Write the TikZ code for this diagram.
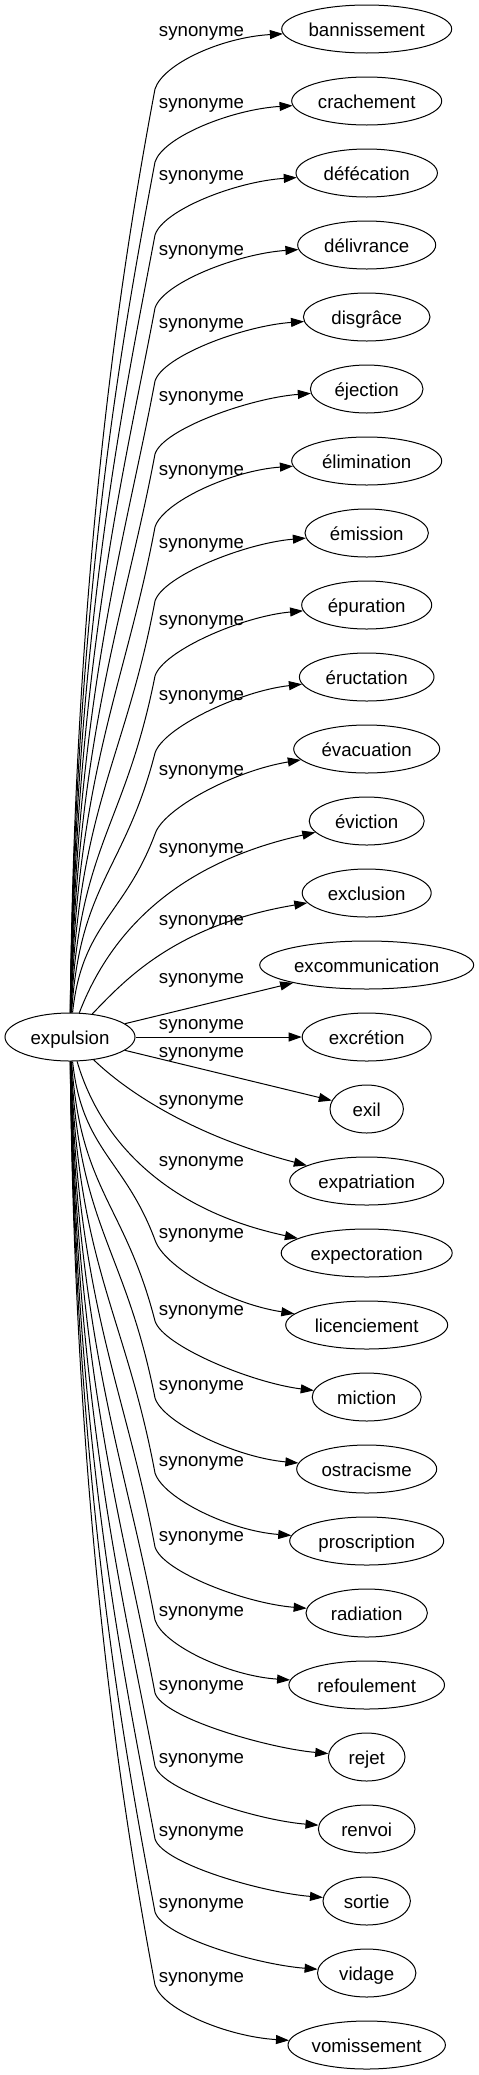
\documentclass[tikz,border=0pt]{standalone}
\usepackage{fontspec}
\setmainfont{Liberation Sans}
\usetikzlibrary{arrows.meta,shapes.geometric}

\tikzset{
  term/.style={draw, ellipse, inner sep=0pt, minimum height=48pt,
    text height=14pt, text depth=0pt, line width=1pt},
  syn/.style={inner sep=0pt},
  edge/.style={line width=1pt, -{Triangle[length=13pt,width=9pt]}},
}

\begin{document}
\begin{tikzpicture}[x=1pt, y=-1pt, font=\fontsize{18.67pt}{22pt}\selectfont]
\useasboundingbox (0,0) rectangle (479,2075);   % page as large as the reference

\node[term, minimum width=130pt] (expulsion) at (70,1037) {expulsion};   % the head word

% the synonyms, one row each, with the label of their edge
\foreach \i/\key/\word/\rx/\ly in {
    0/bannissement/bannissement/85/33, 1/crachement/crachement/75/105,
    2/defecation/défécation/70.7/177, 3/delivrance/délivrance/69/252,
    4/disgrace/disgrâce/63.3/325, 5/ejection/éjection/56.3/398,
    6/elimination/élimination/75/472, 7/emission/émission/61.7/545,
    8/epuration/épuration/65/622, 9/eructation/éructation/67.3/697,
    10/evacuation/évacuation/73/772, 11/eviction/éviction/57.5/850,
    12/exclusion/exclusion/64.5/922, 13/excommunication/excommunication/107/980,
    14/excretion/excrétion/64.5/1026, 15/exil/exil/36.7/1054,
    16/expatriation/expatriation/77/1102, 17/expectoration/expectoration/85.5/1163,
    18/licenciement/licenciement/81/1235, 19/miction/miction/54.5/1312,
    20/ostracisme/ostracisme/70/1387, 21/proscription/proscription/77/1463,
    22/radiation/radiation/60.7/1538, 23/refoulement/refoulement/77.8/1613,
    24/rejet/rejet/38.3/1687, 25/renvoi/renvoi/48.3/1760,
    26/sortie/sortie/43.7/1833, 27/vidage/vidage/49.2/1905,
    28/vomissement/vomissement/78.7/1979} {
  \pgfmathsetmacro\ny{29+72*\i}
  \pgfmathsetmacro\nw{2*\rx}
  \node[term, minimum width=\nw pt] (\key) at (366.7,\ny) {\word};
  \node[syn] (s\key) at (201.5,\ly) {synonyme};
}

% far synonyms: up (or down) the bundle, then a bend towards the word
\foreach \key/\i/\off in {
    bannissement/0/60, crachement/1/61, defecation/2/62, delivrance/3/63,
    disgrace/4/64, ejection/5/65, elimination/6/66, emission/7/68,
    epuration/8/71, eructation/9/76, evacuation/10/85,
    licenciement/18/85, miction/19/76, ostracisme/20/71, proscription/21/68,
    radiation/22/66, refoulement/23/65, rejet/24/64, renvoi/25/63,
    sortie/26/62, vidage/27/61, vomissement/28/60} {
  \pgfmathsetmacro\side{ifthenelse(\i<14,1,-1)}      % 1 above, -1 below
  \pgfmathsetmacro\ny{29+72*\i}
  \pgfmathsetmacro\bendy{\ny+\side*\off}
  \pgfmathsetmacro\reach{\side*(1037-\side*24-\bendy)}
  \pgfmathsetmacro\cax{72+40/abs(\i-14)}
  \pgfmathsetmacro\cay{\bendy+\side*0.5*\reach}
  \pgfmathsetmacro\cby{\bendy+\side*min(160,0.45*\reach)}
  \pgfmathsetmacro\ccy{\bendy-\side*25}
  \pgfmathsetmacro\cdy{\side*(8+56/(abs(\i-14)-2)^2)}
  \draw[edge] (expulsion) .. controls (\cax,\cay) and (125,\cby) .. (155,\bendy)
    .. controls (163,\ccy) and ([shift={(-60,\cdy)}]\key.west) .. (\key);
}

% near synonyms
\draw[edge] (expulsion) .. controls (115,920) and (190,860) .. (eviction);
\draw[edge] (expulsion) .. controls (125,980) and (175,925) .. (exclusion);
\draw[edge] (expulsion) -- (excommunication);
\draw[edge] (expulsion) -- (excretion);
\draw[edge] (expulsion) -- (exil);
\draw[edge] (expulsion) .. controls (125,1090) and (190,1135) .. (expatriation);
\draw[edge] (expulsion) .. controls (100,1140) and (165,1210) .. (expectoration);

\end{tikzpicture}
\end{document}
